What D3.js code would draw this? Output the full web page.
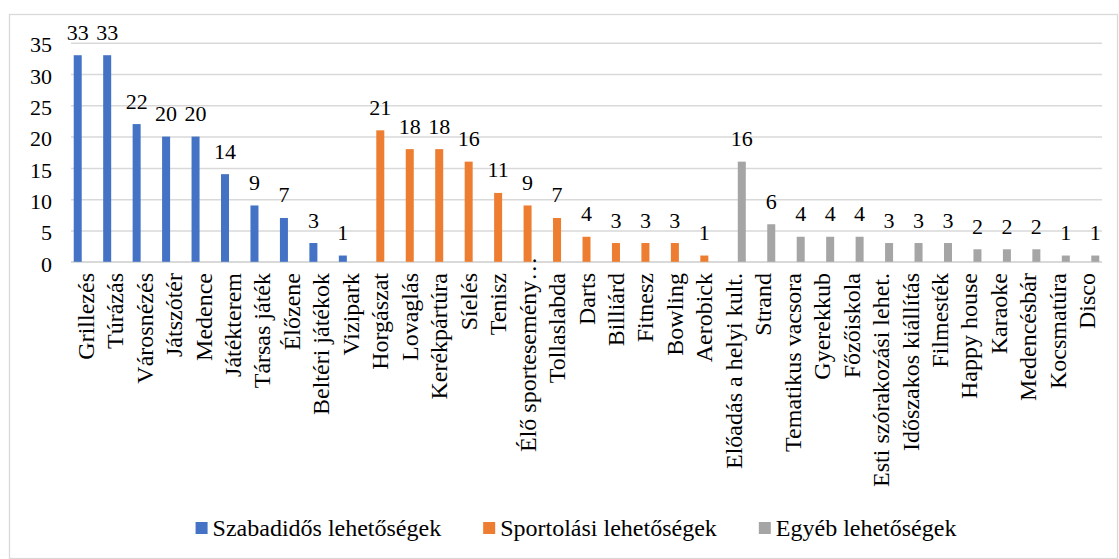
<!DOCTYPE html>
<html>
<head>
<meta charset="utf-8">
<script src="https://cdn.jsdelivr.net/npm/d3@7"></script>
<style>
  body { margin: 0; background: #fff; }
</style>
</head>
<body>
<svg id="svg" width="1119" height="559"></svg>
<script>
// series names
let seriesNames = ["Szabadidős lehetőségek", "Sportolási lehetőségek", "Egyéb lehetőségek"];
let seriesColors = ["#4472C4", "#ED7D31", "#A5A5A5"];

// categories and values per series
let leisureCats = ["Grillezés", "Túrázás", "Városnézés", "Játszótér", "Medence", "Játékterem",
  "Társas játék", "Élőzene", "Beltéri játékok", "Vizipark"];
let leisureVals = [33, 33, 22, 20, 20, 14, 9, 7, 3, 1];

let sportCats = ["Horgászat", "Lovaglás", "Kerékpártúra", "Síelés", "Tenisz", "Élő sportesemény…",
  "Tollaslabda", "Darts", "Billiárd", "Fitnesz", "Bowling", "Aerobick"];
let sportVals = [21, 18, 18, 16, 11, 9, 7, 4, 3, 3, 3, 1];

let otherCats = ["Előadás a helyi kult.", "Strand", "Tematikus vacsora", "Gyerekkub", "Főzőiskola",
  "Esti szórakozási lehet.", "Időszakos kiállítás", "Filmesték", "Happy house", "Karaoke",
  "Medencésbár", "Kocsmatúra", "Disco"];
let otherVals = [16, 6, 4, 4, 4, 3, 3, 3, 2, 2, 2, 1, 1];

let yTicks = [0, 5, 10, 15, 20, 25, 30, 35];

let font = "Liberation Serif";

let groups = [
  { cats: leisureCats, vals: leisureVals },
  { cats: sportCats, vals: sportVals },
  { cats: otherCats, vals: otherVals }
];

let categories = [].concat(leisureCats, sportCats, otherCats);
let bars = [];
groups.forEach((g, s) => {
  g.cats.forEach((c, i) => bars.push({ cat: c, value: g.vals[i], series: seriesNames[s], s: s }));
});

let svg = d3.select("#svg");

/* Chart border */
svg.append("rect")
  .attr("x", 9.5).attr("y", 14.5)
  .attr("width", 1108).attr("height", 544)
  .attr("fill", "none")
  .attr("stroke", "#d9d9d9")
  .attr("stroke-width", 1.3);

let plotLeft = 71, plotRight = 1102, plotTop = 42.7, plotBottom = 261.8;

let x = d3.scaleBand().domain(categories).range([plotLeft, plotRight]).padding(0);
let xs = d3.scaleBand().domain(seriesNames).range([0, x.bandwidth()])
  .paddingInner(0).paddingOuter(0.34);
let y = d3.scaleLinear().domain([0, 35]).range([plotBottom, plotTop]);

/* Gridlines + y labels */
let yAxis = svg.append("g")
  .attr("transform", `translate(${plotLeft},0)`)
  .call(d3.axisLeft(y).tickValues(yTicks).tickSize(-(plotRight - plotLeft)).tickPadding(19))
  .attr("font-family", font)
  .attr("font-size", 22);
yAxis.select(".domain").remove();
yAxis.selectAll("line")
  .attr("stroke", "#d9d9d9")
  .attr("stroke-width", 1.5);
yAxis.selectAll("text")
  .attr("fill", "#000")
  .attr("dy", "0.42em");

/* x axis line */
svg.append("line")
  .attr("x1", plotLeft).attr("x2", plotRight)
  .attr("y1", y(0)).attr("y2", y(0))
  .attr("stroke", "#d9d9d9")
  .attr("stroke-width", 1.5);

/* Bars */
svg.append("g").selectAll("rect")
  .data(bars)
  .join("rect")
  .attr("x", d => x(d.cat) + xs(d.series))
  .attr("y", d => y(d.value))
  .attr("width", xs.bandwidth())
  .attr("height", d => y(0) - y(d.value))
  .attr("fill", d => seriesColors[d.s]);

/* Value labels */
svg.append("g")
  .attr("font-family", font)
  .attr("font-size", 22)
  .selectAll("text")
  .data(bars)
  .join("text")
  .attr("x", d => x(d.cat) + xs(d.series) + xs.bandwidth() / 2)
  .attr("y", d => y(d.value) - 15.5)
  .attr("text-anchor", "middle")
  .attr("fill", "#000")
  .text(d => d.value);

/* Category labels, rotated; the truncated one is pushed up to the bottom limit */
let labelTop = 273, labelMax = 452;
svg.append("g")
  .attr("font-family", font)
  .attr("font-size", 24)
  .selectAll("text")
  .data(categories)
  .join("text")
  .attr("text-anchor", "end")
  .attr("fill", "#000")
  .text(d => d)
  .each(function (d) {
    let len = this.getComputedTextLength();
    let ty = d.endsWith("…") ? labelMax - len : labelTop;
    let tx = x(d) + x.bandwidth() / 2 + 8;
    d3.select(this).attr("transform", `translate(${tx},${ty}) rotate(-90)`);
  });

/* Legend */
let legend = svg.append("g")
  .attr("font-family", font)
  .attr("font-size", 24);
let lx = 0;
seriesNames.forEach((name, i) => {
  let item = legend.append("g").attr("transform", `translate(${lx},0)`);
  item.append("rect")
    .attr("x", 0).attr("y", 522)
    .attr("width", 12).attr("height", 12)
    .attr("fill", seriesColors[i]);
  let t = item.append("text")
    .attr("x", 17).attr("y", 536)
    .attr("fill", "#000")
    .text(name);
  lx += 17 + t.node().getComputedTextLength() + 42;
});
let legendWidth = lx - 42;
legend.attr("transform", `translate(${576 - legendWidth / 2},0)`);
</script>
</body>
</html>
